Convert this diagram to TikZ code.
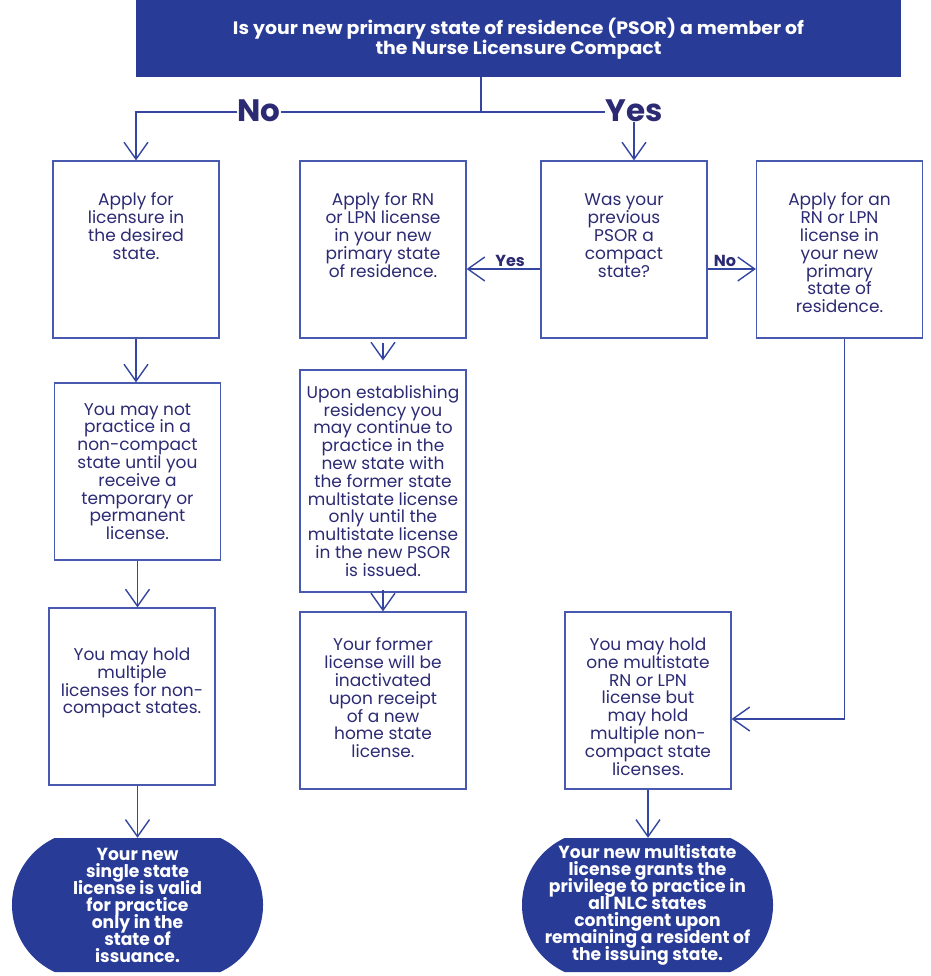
\documentclass[tikz,border=0pt]{standalone}
\usepackage{fontspec}
\setmainfont{Poppins}
\newfontfamily\bodyfont[FakeStretch=1.0]{Poppins}
\newfontfamily\boldfont[FakeStretch=1.05]{Poppins}
\newfontfamily\resultfont[FakeStretch=0.98]{Poppins}
\usepackage{tikz}
\usetikzlibrary{arrows.meta,shapes.misc}
\definecolor{nlcblue}{RGB}{40,59,150}
\definecolor{boxline}{RGB}{72,90,175}
\definecolor{inkblue}{RGB}{43,42,115}
\definecolor{arrowblue}{RGB}{52,70,160}
\newcommand{\toptext}[2]{\parbox[c][177pt][t]{164pt}{\centering\vspace*{#1}#2}}
\newcommand{\resulttext}[1]{\makebox[0pt]{\parbox{230pt}{\centering\lineskiplimit=-8pt\fontsize{17.5}{17}\selectfont #1\par}}}

\begin{document}
\begin{tikzpicture}[x=1pt,y=-1pt,
flowbox/.style={draw=boxline,line width=1.2pt,inner sep=0pt,minimum width=166pt,minimum height=177pt,align=center,text=inkblue,font=\bodyfont\fontsize{17}{17.8}\selectfont},
endbox/.style={rounded rectangle,rounded rectangle arc length=130,fill=nlcblue,text=white,inner sep=0pt,minimum width=251pt,minimum height=134pt,font=\resultfont\bfseries},
arr/.style={draw=arrowblue,line width=1.4pt,-{Straight Barb[length=17pt,width=24pt]}},
link/.style={draw=arrowblue,line width=1.4pt},
bigword/.style={text=inkblue,font=\bfseries\fontsize{31}{31}\selectfont,inner sep=0pt,anchor=base},
smallword/.style={text=inkblue,font=\bfseries\fontsize{16}{16}\selectfont,inner sep=2pt}]
\useasboundingbox (0,0) rectangle (930,976);
% question at the top
\node[fill=nlcblue,text=white,minimum width=765pt,minimum height=77pt,inner sep=0pt,align=center,font=\boldfont\bfseries\fontsize{18}{18}\selectfont] (psor) at (518.5,38.5) {Is your new primary state of residence (PSOR) a member of\\the Nurse Licensure Compact};
\node[bigword] (no) at (259,122) {No};
\node[bigword] (yes) at (634,122) {Yes};
\coordinate (split) at (481,112);
% first row
\node[flowbox] (apply) at (136,249.5) {\toptext{32pt}{Apply for\\licensure in\\the desired\\state.}};
\node[flowbox] (applyrn) at (383,249.5) {\toptext{32pt}{Apply for RN\\or LPN license\\in your new\\primary state\\of residence.}};
\node[flowbox] (prev) at (624,249.5) {\toptext{33pt}{Was your\\previous\\PSOR a\\compact\\state?}};
\node[flowbox] (applyan) at (839.5,249.5) {\toptext{32pt}{Apply for an\\RN or LPN\\license in\\your new\\primary\\state of\\residence.}};
% second and third rows
\node[flowbox] (nopractice) at (137.5,471.5) {You may not\\practice in a\\non-compact\\state until you\\receive a\\temporary or\\permanent\\license.};
\node[flowbox,minimum height=222pt] (upon) at (383,481) {Upon establishing\\residency you\\may continue to\\practice in the\\new state with\\the former state\\multistate license\\only until the\\multistate license\\in the new PSOR\\is issued.};
\node[flowbox] (multiple) at (132,696.5) {\toptext{40pt}{You may hold\\multiple\\licenses for non-\\compact states.}};
\node[flowbox] (former) at (383,700.5) {\toptext{26pt}{Your former\\license will be\\inactivated\\upon receipt\\of a new\\home state\\license.}};
\node[flowbox] (onemulti) at (648,700.5) {\toptext{26pt}{You may hold\\one multistate\\RN or LPN\\license but\\may hold\\multiple non-\\compact state\\licenses.}};
% end results
\node[endbox] (single) at (137.5,905) {\resulttext{Your new\\single state\\license is valid\\for practice\\only in the\\state of\\issuance.}};
\node[endbox] (grants) at (647.5,905) {\resulttext{Your new multistate\\license grants the\\privilege to practice in\\all NLC states\\contingent upon\\remaining a resident of\\the issuing state.}};
% connectors
\draw[link] (psor.south -| split) -- (split) -- (no.east |- split);
\draw[link] (split) -- (yes.west |- split);
\draw[arr] (no.west |- split) -| (apply.north);
\draw[arr] (yes.south) -- (yes.south |- prev.north);
\draw[arr] (apply.south) -- (apply.south |- nopractice.north);
\draw[arr] (nopractice.south) -- (nopractice.south |- multiple.north);
\draw[arr] (single.north |- multiple.south) -- (single.north);
\draw[arr] ([yshift=-4pt]applyrn.south) -- ([yshift=9pt]upon.north);
\draw[arr] ([yshift=3pt]upon.south) -- (former.north);
\draw[arr] ([yshift=-19.5pt]prev.west) -- node[smallword,above,pos=0.41] (yesleft) {Yes} ([yshift=-19.5pt]prev.west -| applyrn.east);
\draw[arr] ([yshift=-19.5pt]prev.east) -- node[smallword,above,pos=0.36] (noright) {No} ([yshift=-19.5pt]prev.east -| applyan.west);
\draw[arr] ([xshift=5pt]applyan.south) |- ([yshift=-18.5pt]onemulti.east);
\draw[arr] (onemulti.south) -- (onemulti.south |- grants.north);
\end{tikzpicture}
\end{document}
